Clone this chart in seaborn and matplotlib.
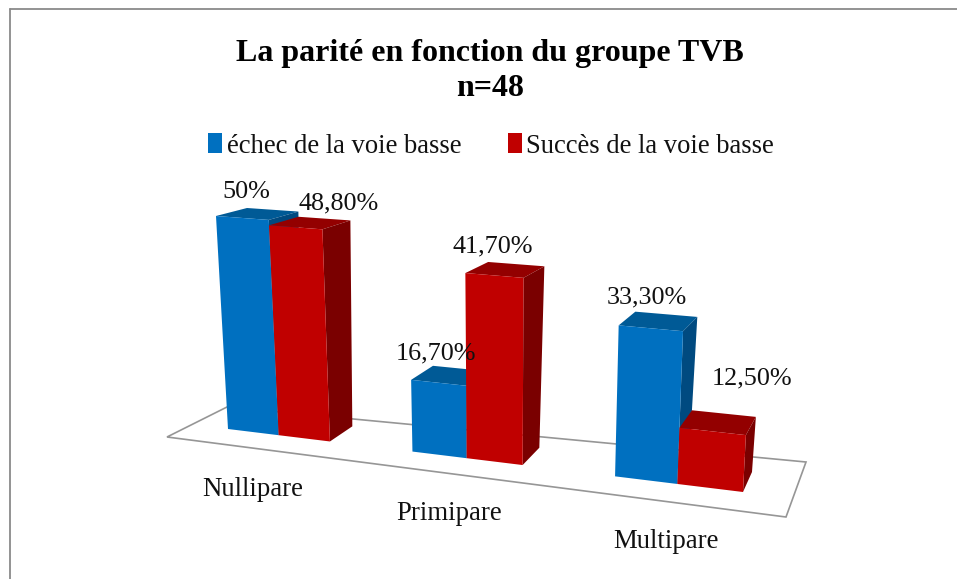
import numpy as np
import pandas as pd
import matplotlib
matplotlib.use("Agg")
import matplotlib.pyplot as plt
import matplotlib.transforms as mtransforms
from matplotlib.patches import Polygon
from matplotlib.lines import Line2D
import seaborn as sns

# ---- data -------------------------------------------------------------
categories = ["Nullipare", "Primipare", "Multipare"]
series_names = ["échec de la voie basse", "Succès de la voie basse"]
echec_values = [50.0, 16.7, 33.3]
succes_values = [48.8, 41.7, 12.5]
echec_labels = ["50%", "16,70%", "33,30%"]
succes_labels = ["48,80%", "41,70%", "12,50%"]
title_text = "La parité en fonction du groupe TVB\nn=48"

# ---- style -------------------------------------------------------------
W, H = 957, 579
sns.set_theme(style="white")
plt.rcParams["font.family"] = ["Liberation Serif", "DejaVu Serif"]
TXT = "#111111"
front_cols = ["#0070C0", "#C00000"]
top_cols = ["#005A96", "#930000"]
side_cols = ["#004A80", "#7A0000"]
BAR_WIDTH = 0.56
x0, x1 = 0 - BAR_WIDTH / 2, 2 + BAR_WIDTH / 2
WARP = 0.011  # extra horizontal foreshortening of the scene

# ---- perspective: maps the (category, value) plane to picture pixels ---
class Homography(mtransforms.Transform):
    input_dims = output_dims = 2
    is_affine = False
    has_inverse = False

    def __init__(self, src, dst):
        super().__init__()
        A, b = [], []
        for (x, y), (u, v) in zip(src, dst):
            A.append([x, y, 1, 0, 0, 0, -u * x, -u * y]); b.append(u)
            A.append([0, 0, 0, x, y, 1, -v * x, -v * y]); b.append(v)
        self.m = np.append(np.linalg.solve(np.array(A, float), np.array(b, float)), 1).reshape(3, 3)

    def transform_non_affine(self, pts):
        pts = np.array(pts, float)
        pts[:, 0] += WARP * (pts[:, 0] - x0) ** 2 * (pts[:, 0] - x1)
        q = np.c_[pts, np.ones(len(pts))] @ self.m.T
        return q[:, :2] / q[:, 2:]

plane = [(x0, 0), (x1, 0), (x0, 50), (x1, 50)]
front_plane = Homography(plane, [(228, 429), (743, 492), (216, 216), (755, 256)])
back_plane = Homography(plane, [(253, 415), (752, 472), (247, 208), (768, 244)])
px = mtransforms.Affine2D().scale(1, -1).translate(0, H)

# ---- chart -------------------------------------------------------------
df = pd.DataFrame({
    "parite": categories * 2,
    "groupe": np.repeat(series_names, 3),
    "pct": echec_values + succes_values,
})
fig = plt.figure(figsize=(W / 100, H / 100), dpi=100, facecolor="white")
ax = fig.add_axes([0, 0, 1, 1])
sns.barplot(data=df, x="parite", y="pct", hue="groupe", hue_order=series_names,
            order=categories, palette=front_cols, width=BAR_WIDTH, saturation=1,
            gap=0, ax=ax)
ax.set_axis_off()

# floor of the 3-D scene
floor = Polygon([(167, 437), (227, 407), (806, 462), (786, 517)], closed=True,
                facecolor="white", edgecolor="#969696", lw=1.2, transform=px,
                zorder=1, clip_on=False)
ax.add_patch(floor)

# bars: seaborn's rectangles become the front faces, depth faces follow from them
for s, container in enumerate(ax.containers):
    for bar in container:
        bar.set_transform(front_plane + px)
        bar.set_clip_on(False)
        bar.set_linewidth(0)
        bar.set_zorder(3 + 2 * s)
        xa, xb, h = bar.get_x(), bar.get_x() + bar.get_width(), bar.get_height()
        fa = front_plane.transform_non_affine(np.array([(xa, h), (xb, h), (xb, 0)]))
        ba = back_plane.transform_non_affine(np.array([(xa, h), (xb, h), (xb, 0)]))
        ax.add_patch(Polygon([fa[0], fa[1], ba[1], ba[0]], closed=True, facecolor=top_cols[s],
                             edgecolor="none", transform=px, zorder=2.5 + 2 * s, clip_on=False))
        ax.add_patch(Polygon([fa[1], fa[2], ba[2], ba[1]], closed=True, facecolor=side_cols[s],
                             edgecolor="none", transform=px, zorder=2.5 + 2 * s, clip_on=False))

# value labels
label_offsets = [[(4, 26), (-2, 29), (-4, 31)], [(43, 24), (-1, 29), (40, 53)]]
for s, (container, labels) in enumerate(zip(ax.containers, [echec_labels, succes_labels])):
    for bar, lab, off in zip(container, labels, label_offsets[s]):
        ax.annotate(lab, xy=(bar.get_x() + bar.get_width() / 2, bar.get_height()),
                    xycoords=front_plane + px, xytext=off, textcoords="offset pixels",
                    ha="center", va="center", fontsize=18.8, color=TXT, zorder=10,
                    annotation_clip=False)

# category labels
cat_offsets = [(-26, -54), (-18, -55), (-11, -58)]
for i, (cat, off) in enumerate(zip(categories, cat_offsets)):
    ax.annotate(cat, xy=(i, 0), xycoords=front_plane + px, xytext=off,
                textcoords="offset pixels", ha="center", va="center",
                fontsize=19.3, color=TXT, zorder=10, annotation_clip=False)

# legend
handles = [c[0] for c in ax.containers]
ax.get_legend().remove()
ax.legend(handles, series_names, ncol=2, frameon=False, fontsize=19.2,
          loc="center", bbox_to_anchor=(491 / W, 1 - 146 / H), bbox_transform=fig.transFigure,
          handlelength=0.53, handleheight=0.75, handletextpad=0.17, columnspacing=1.75,
          labelcolor=TXT, borderpad=0, borderaxespad=0)

# title
fig.text(490 / W, 1 - 71 / H, title_text, ha="center", va="center", fontsize=23,
         fontweight="bold", color="#000000", linespacing=1.27)

# chart frame (right and bottom run off the picture)
frame = dict(color="#8A8A8A", lw=1.3, transform=px, clip_on=False)
fig.add_artist(Line2D([9.5, 9.5], [8.5, H], **frame))
fig.add_artist(Line2D([9.5, W], [8.5, 8.5], **frame))

fig.savefig("out.png", dpi=100, facecolor="white")
